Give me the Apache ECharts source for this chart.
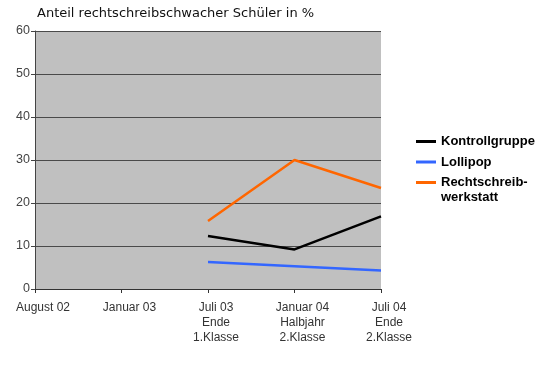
<!DOCTYPE html>
<html>
<head>
<meta charset="utf-8">
<script src="https://cdn.jsdelivr.net/npm/echarts@6/dist/echarts.min.js"></script>
<style>
html,body{margin:0;padding:0;background:#fff;}
#chart{width:550px;height:371px;}
</style>
</head>
<body>
<div id="chart"></div>
<script>
const categories = ['August 02', 'Januar 03', 'Juli 03\nEnde\n1.Klasse', 'Januar 04\nHalbjahr\n2.Klasse', 'Juli 04\nEnde\n2.Klasse'];
const kontrollgruppe = [null, null, 12.3, 9.2, 16.9];
const lollipop = [null, null, 6.3, 5.3, 4.3];
const rechtschreibwerkstatt = [null, null, 15.8, 30, 23.5];
const yTicks = { min: 0, max: 60, interval: 10 };
const titleText = 'Anteil rechtschreibschwacher Schüler in %';

const chart = echarts.init(document.getElementById('chart'), null, { renderer: 'canvas' });
chart.setOption({
  animation: false,
  backgroundColor: '#ffffff',
  title: {
    text: titleText,
    left: 37,
    top: 7,
    padding: 0,
    textStyle: { fontFamily: 'DejaVu Sans', fontSize: 13, fontWeight: 'normal', color: '#111' }
  },
  grid: {
    left: 35, top: 31, right: 169, bottom: 82,
    outerBoundsMode: 'none',
    containLabel: false,
    show: true, backgroundColor: '#c0c0c0', borderWidth: 0
  },
  legend: {
    orient: 'vertical',
    left: 416,
    top: 135,
    padding: 0,
    itemGap: 7.5,
    itemWidth: 20,
    itemHeight: 3,
    icon: 'rect',
    formatter: function (name) { return name === 'Rechtschreibwerkstatt' ? 'Rechtschreib-' : name; },
    textStyle: { fontFamily: 'Liberation Sans', fontSize: 13, fontWeight: 'bold', color: '#000' },
    data: ['Kontrollgruppe', 'Lollipop', 'Rechtschreibwerkstatt']
  },
  graphic: [{
    type: 'text',
    left: 441,
    top: 191,
    style: { text: 'werkstatt', font: 'bold 13px "Liberation Sans"', fill: '#000' }
  }],
  xAxis: {
    type: 'category',
    data: categories,
    boundaryGap: false,
    axisLine: { show: true, lineStyle: { color: '#333', width: 1 } },
    axisTick: { show: true, length: 4, lineStyle: { color: '#333' } },
    axisLabel: {
      interval: 0,
      margin: 11,
      color: '#333',
      fontFamily: 'Liberation Sans',
      fontSize: 12,
      lineHeight: 15,
      padding: [0, 0, 0, 16]
    },
    splitLine: { show: false }
  },
  yAxis: {
    type: 'value',
    min: yTicks.min,
    max: yTicks.max,
    interval: yTicks.interval,
    axisLine: { show: true, lineStyle: { color: '#444', width: 1 } },
    axisTick: { show: true, length: 4, lineStyle: { color: '#444' } },
    axisLabel: { margin: 5, color: '#444', fontFamily: 'Liberation Sans', fontSize: 12.5 },
    splitLine: { show: true, lineStyle: { color: '#4a4a4a', width: 1.2 } }
  },
  series: [
    { name: 'Kontrollgruppe', type: 'line', data: kontrollgruppe, symbol: 'none', color: '#000000', lineStyle: { width: 2.5 } },
    { name: 'Lollipop', type: 'line', data: lollipop, symbol: 'none', color: '#3366ff', lineStyle: { width: 2.5 } },
    { name: 'Rechtschreibwerkstatt', type: 'line', data: rechtschreibwerkstatt, symbol: 'none', color: '#ff6600', lineStyle: { width: 2.5 } }
  ]
});
</script>
</body>
</html>
